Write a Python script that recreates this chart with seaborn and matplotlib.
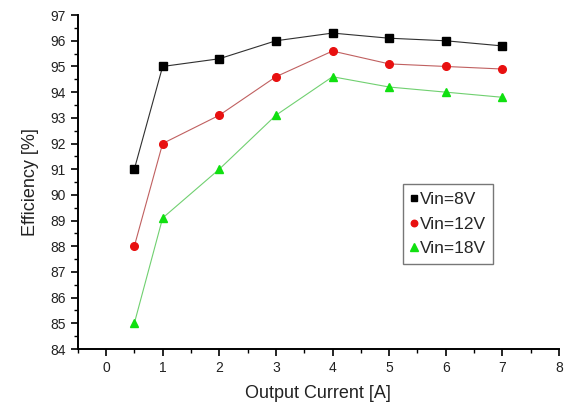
import matplotlib
matplotlib.use("Agg")
import matplotlib.pyplot as plt
import seaborn as sns
import pandas as pd
from matplotlib.ticker import MultipleLocator

current = [0.5, 1, 2, 3, 4, 5, 6, 7]
eff_8v = [91.0, 95.0, 95.3, 96.0, 96.3, 96.1, 96.0, 95.8]
eff_12v = [88.0, 92.0, 93.1, 94.6, 95.6, 95.1, 95.0, 94.9]
eff_18v = [85.0, 89.1, 91.0, 93.1, 94.6, 94.2, 94.0, 93.8]
series_names = ["Vin=8V", "Vin=12V", "Vin=18V"]

df = pd.DataFrame({
    "current": current * 3,
    "eff": eff_8v + eff_12v + eff_18v,
    "series": [series_names[0]] * 8 + [series_names[1]] * 8 + [series_names[2]] * 8,
})

sns.set_style("white")
plt.rcParams["font.family"] = ["Liberation Sans", "DejaVu Sans"]

fig = plt.figure(figsize=(5.82, 4.08), dpi=100)
ax = fig.add_axes([0.1335, 0.1446, 0.827, 0.8184])

line_colors = ["#303030", "#c06060", "#70d070"]
marker_colors = ["#000000", "#e81010", "#10e010"]
markers = ["s", "o", "^"]
msizes = [5.2, 5.5, 6.0]
for name, lc, mc, mk, ms in zip(series_names, line_colors, marker_colors, markers, msizes):
    sub = df[df["series"] == name]
    sns.lineplot(data=sub, x="current", y="eff", ax=ax, color=lc, linewidth=0.8,
                 legend=False)
    ax.plot(sub["current"], sub["eff"], linestyle="none", marker=mk, color=mc,
            markersize=ms, label=name, zorder=3)

ax.set_xlim(-0.5, 8)
ax.set_ylim(84, 97)
ax.xaxis.set_major_locator(MultipleLocator(1))
ax.xaxis.set_minor_locator(MultipleLocator(0.5))
ax.yaxis.set_major_locator(MultipleLocator(1))
ax.yaxis.set_minor_locator(MultipleLocator(0.5))
ax.tick_params(which="major", direction="out", length=5, width=1.2, labelsize=10,
               bottom=True, left=True, color="black", labelcolor="#222222")
ax.tick_params(which="minor", direction="out", length=3, width=1.0,
               bottom=True, left=True, color="black")
for s in ["top", "right"]:
    ax.spines[s].set_visible(False)
for s in ["left", "bottom"]:
    ax.spines[s].set_color("black")
    ax.spines[s].set_linewidth(1.4)

ax.set_xlabel("Output Current [A]", fontsize=13, color="#222222", labelpad=7)
ax.set_ylabel("Efficiency [%]", fontsize=13, color="#222222", labelpad=8)

leg = ax.legend(loc="upper left", bbox_to_anchor=(0.676, 0.494), fontsize=12.5,
                frameon=True, fancybox=False, handlelength=0.35, handletextpad=0.15,
                borderpad=0.45, labelspacing=0.55, markerscale=0.85, borderaxespad=0)
leg.get_frame().set_edgecolor("#555555")
leg.get_frame().set_linewidth(1.0)

fig.savefig("out.png", dpi=100)
